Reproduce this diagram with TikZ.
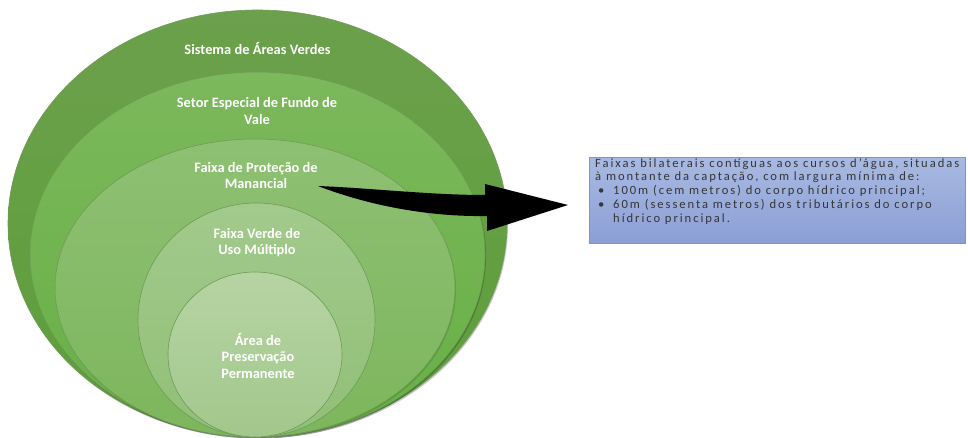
\documentclass[tikz,border=0pt]{standalone}
\usepackage{fontspec}
\setmainfont{Carlito}
\newfontfamily\boxfont[LetterSpace=15.5]{Carlito}
\usetikzlibrary{shapes.geometric}
\definecolor{gAt}{HTML}{6CA04C}
\definecolor{gAb}{HTML}{5C9F3A}
\definecolor{gBt}{HTML}{7CB85C}
\definecolor{gBb}{HTML}{67B045}
\definecolor{gCt}{HTML}{8EC073}
\definecolor{gCb}{HTML}{7DB65C}
\definecolor{gDt}{HTML}{A2CA8C}
\definecolor{gDb}{HTML}{90BF76}
\definecolor{gEt}{HTML}{B6D4A3}
\definecolor{gEb}{HTML}{A2C78C}
\definecolor{ringline}{HTML}{6F9A57}
\definecolor{boxtop}{HTML}{A8B9E2}
\definecolor{boxbot}{HTML}{8C9FD5}
\definecolor{boxline}{HTML}{7F93C8}
\definecolor{boxtext}{HTML}{363636}
\begin{document}
\begin{tikzpicture}[x=1pt,y=-1pt]
\tikzset{
  ring/.style={ellipse, inner sep=0pt, outer sep=0pt, draw=ringline, line width=0.6pt},
  ringshadow/.style={fill=black, opacity=0.22},
  lab/.style={text=white, font=\bfseries\fontsize{14.4}{16.5}\selectfont, align=center, inner sep=0pt},
  infobox/.style={rectangle, draw=boxline, line width=0.8pt, top color=boxtop, bottom color=boxbot, inner sep=0pt},
  infotext/.style={text=boxtext, font=\boxfont\fontsize{12.6}{13.9}\selectfont, align=left, inner sep=0pt}
}
\useasboundingbox (0,0) rectangle (968,438);
\fill[white] (0,0) rectangle (968,438);

% rings with soft shadows
\fill[ringshadow] (258.5,225) ellipse [x radius=249.5pt, y radius=213.5pt];
\node[ring, minimum width=499, minimum height=427, top color=gAt, bottom color=gAb] (sav) at (257.5,223.5) {};
\fill[ringshadow] (258.5,256) ellipse [x radius=227.5pt, y radius=182.5pt];
\node[ring, minimum width=455, minimum height=365, top color=gBt, bottom color=gBb] (sefv) at (257.5,254.5) {};
\fill[ringshadow, opacity=0.12] (256,289.5) ellipse [x radius=200pt, y radius=149pt];
\node[ring, minimum width=400, minimum height=298, top color=gCt, bottom color=gCb] (fpm) at (255,288) {};
\node[ring, minimum width=237, minimum height=234, top color=gDt, bottom color=gDb] (fvum) at (256.5,320) {};
\node[ring, minimum width=174, minimum height=165, top color=gEt, bottom color=gEb] (app) at (255,354.5) {};

\node[lab] (l1) at (257.5,49) {Sistema de Áreas Verdes};
\node[lab] (l2) at (257,111) {Setor Especial de Fundo de\\Vale};
\node[lab] (l3) at (256,175.5) {Faixa de Proteção de\\Manancial};
\node[lab] (l4) at (257,242.5) {Faixa Verde de\\Uso Múltiplo};
\node[lab] (l5) at (258,356) {Área de\\Preservação\\Permanente};

% info box
\node[infobox, minimum width=376, minimum height=86, anchor=north west] (info) at (589,157) {};
\node[infotext, anchor=north west] (infotxt) at (595,158)
 {Faixas bilaterais contíguas aos cursos d’água, situadas\\
  à montante da captação, com largura mínima de:\\
  \makebox[18pt][l]{\hspace{3pt}•}100m (cem metros) do corpo hídrico principal;\\
  \makebox[18pt][l]{\hspace{3pt}•}60m (sessenta metros) dos tributários do corpo\\
  \hspace*{18pt}hídrico principal.};

% curved arrow
\coordinate (atail) at (318,186);
\coordinate (atip) at (568,205);
\fill[black] (atail) .. controls (370,188) and (430,195) .. (485,195)
  -- (485,184) -- (atip) -- (487,231) -- (487,216)
  .. controls (430,217) and (370,206) .. (atail) -- cycle;
\end{tikzpicture}
\end{document}
